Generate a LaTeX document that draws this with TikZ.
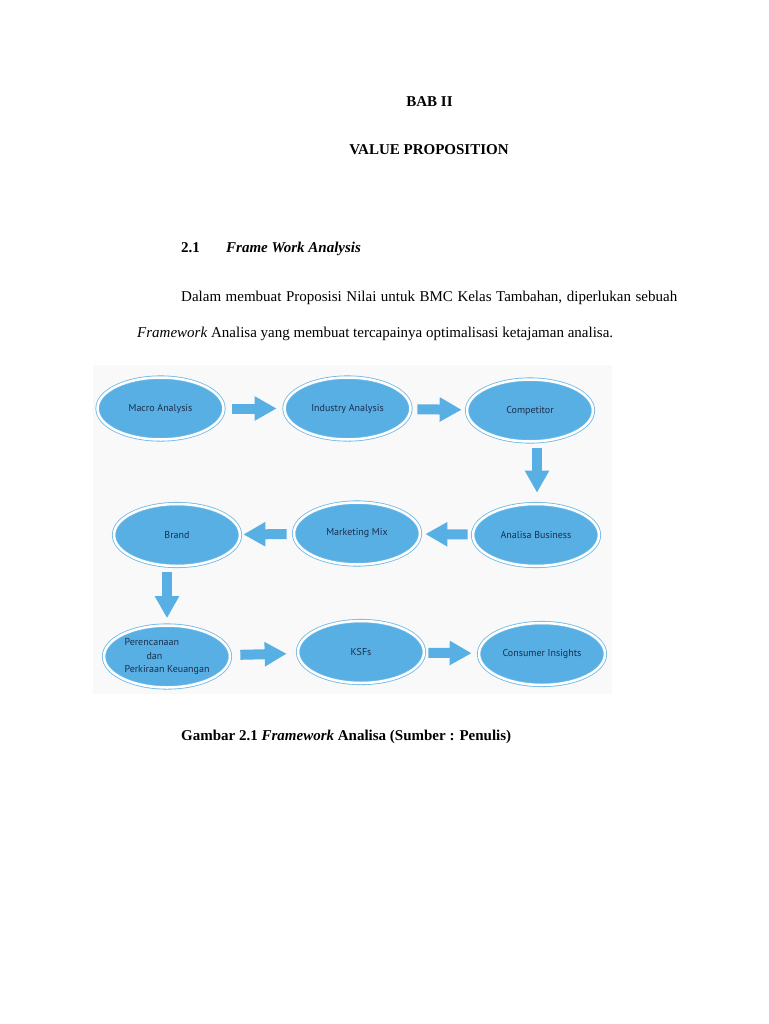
\documentclass[tikz,border=0pt]{standalone}
\usepackage{fontspec}
\setmainfont{Liberation Serif}
\newfontfamily\diagfont{PT Sans}
\usetikzlibrary{shapes.geometric,arrows.meta}
\definecolor{fillblue}{HTML}{58AFE3}
\definecolor{ringblue}{HTML}{6DB8E6}
\definecolor{navy}{HTML}{1A2F4F}
\definecolor{bgtint}{HTML}{F9F9F9}
\tikzset{
  oval/.style={ellipse, draw=ringblue, line width=0.8pt, double=white,
    double distance=2.5pt, fill=fillblue, minimum width=126pt,
    minimum height=62pt, inner sep=0pt, text=navy,
    font=\diagfont\fontsize{10}{13.5}\selectfont},
  blk/.style={draw=fillblue, line width=10pt,
    -{Triangle[length=22pt,width=23pt]}},
  body/.style={inner sep=0pt, anchor=base west, font=\fontsize{15}{18}\selectfont},
}
\begin{document}
\begin{tikzpicture}[x=1pt,y=-1pt]
\useasboundingbox (0,0) rectangle (768,1024);
\fill[white] (0,0) rectangle (768,1024);
\fill[bgtint] (93,365) rectangle (612,694);

\node[body, anchor=base] (bab) at (429.5,107) {\textbf{BAB II}};
\node[body, anchor=base] (vp) at (429,155) {\textbf{VALUE PROPOSITION}};
\node[body] (num) at (181,252) {\textbf{2.1}};
\node[body] (sec) at (226,252) {\textbf{\textit{Frame Work Analysis}}};
\node[body] (p1) at (181,301) {\hbox to 496pt{Dalam membuat Proposisi Nilai untuk BMC Kelas Tambahan, diperlukan sebuah}};
\node[body] (p2) at (137,337) {\textit{Framework} Analisa yang membuat tercapainya optimalisasi ketajaman analisa.};
\node[body] (cap) at (181,740) {\textbf{Gambar 2.1 \textit{Framework} Analisa (Sumber : Penulis)}};

\node[oval] (macro) at (160.5,408.5) {Macro Analysis};
\node[oval] (industry) at (347.5,408.5) {Industry Analysis};
\node[oval] (competitor) at (530,410.5) {Competitor};
\node[oval] (analisa) at (536,535) {Analisa Business};
\node[oval] (mix) at (357,533.5) {Marketing Mix};
\node[oval] (brand) at (177,535) {Brand};
\node[oval] (plan) at (167,656.5) {\raisebox{-3pt}{\begin{tabular}{@{}l@{}}Perencanaan\\\hspace*{22pt}dan\\Perkiraan Keuangan\end{tabular}}};
\node[oval] (ksf) at (361,652) {KSFs};
\node[oval] (consumer) at (542,654) {Consumer Insights};

\draw[blk, shorten <=8.5pt, shorten >=7.5pt] (macro) -- (industry);
\draw[blk, shorten <=6.5pt, shorten >=5pt] (industry) -- (competitor);
\draw[blk, shorten <=6.5pt, shorten >=11pt] ([xshift=7pt]competitor.south) -- ([xshift=1pt]analisa.north);
\draw[blk, shorten <=5pt, shorten >=5pt] (analisa) -- (mix);
\draw[blk, shorten <=7pt, shorten >=3pt] (mix) -- (brand);
\draw[blk, shorten <=6pt, shorten >=7pt] ([xshift=-10pt]brand.south) -- (plan.north);
\draw[blk, shorten <=10pt, shorten >=11pt] (plan) -- (ksf);
\draw[blk, shorten <=4pt, shorten >=7pt] (ksf) -- (consumer);
\end{tikzpicture}
\end{document}
